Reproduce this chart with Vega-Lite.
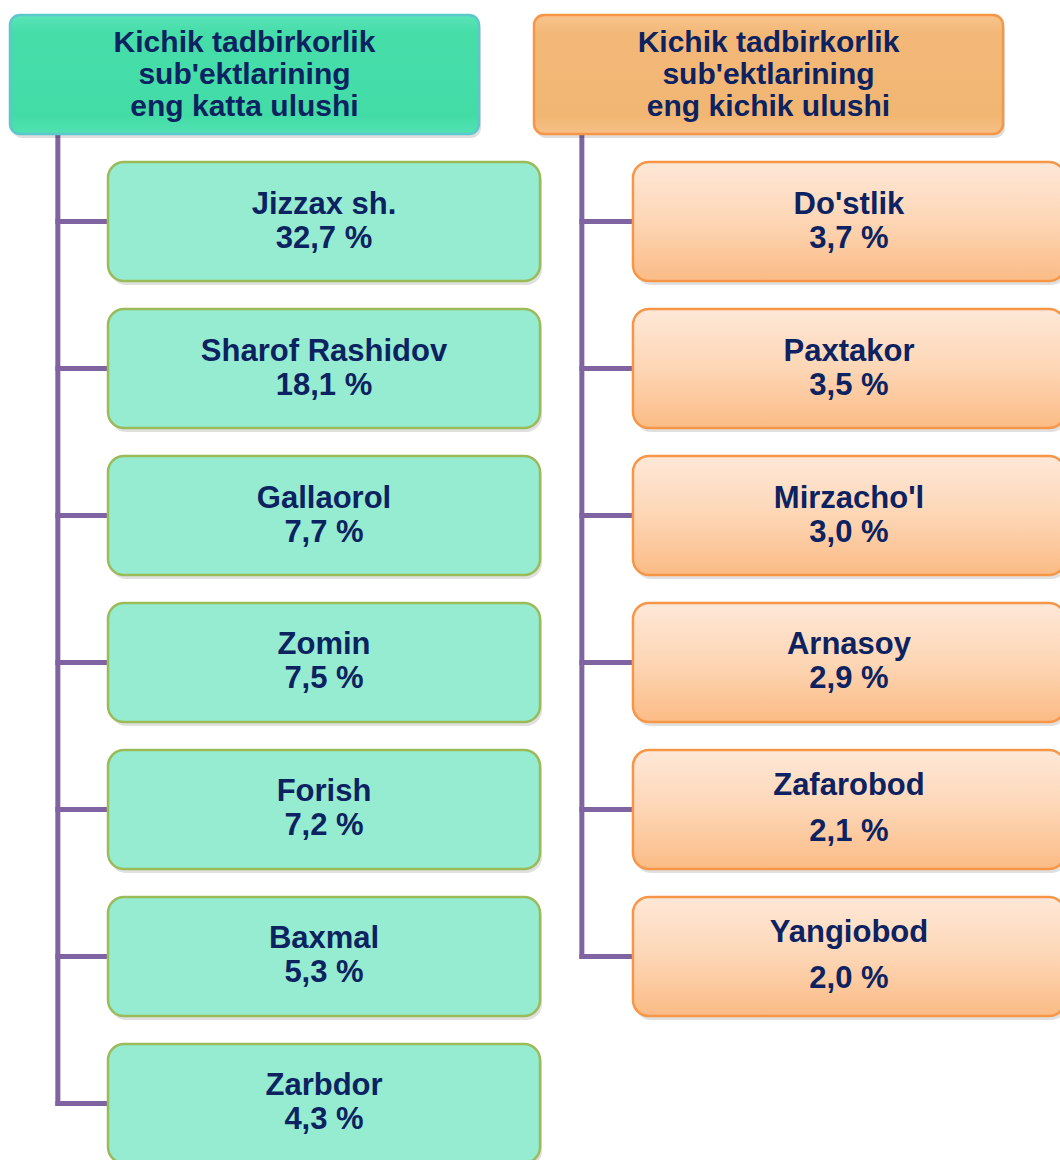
{
  "$schema": "https://vega.github.io/schema/vega-lite/v6.json",
  "width": 1060,
  "height": 1160,
  "padding": 0,
  "autosize": {"type": "none"},
  "background": "white",
  "config": {"view": {"stroke": null}},
  "data": {
    "values": [
      {"side": "left", "row": 0, "kind": "header", "title": ["Kichik tadbirkorlik", "sub'ektlarining", "eng katta ulushi"]},
      {"side": "right", "row": 0, "kind": "header", "title": ["Kichik tadbirkorlik", "sub'ektlarining", "eng kichik ulushi"]},
      {"side": "left", "row": 1, "kind": "box", "name": "Jizzax sh.", "share": 32.7},
      {"side": "left", "row": 2, "kind": "box", "name": "Sharof Rashidov", "share": 18.1},
      {"side": "left", "row": 3, "kind": "box", "name": "Gallaorol", "share": 7.7},
      {"side": "left", "row": 4, "kind": "box", "name": "Zomin", "share": 7.5},
      {"side": "left", "row": 5, "kind": "box", "name": "Forish", "share": 7.2},
      {"side": "left", "row": 6, "kind": "box", "name": "Baxmal", "share": 5.3},
      {"side": "left", "row": 7, "kind": "box", "name": "Zarbdor", "share": 4.3},
      {"side": "right", "row": 1, "kind": "box", "name": "Do'stlik", "share": 3.7},
      {"side": "right", "row": 2, "kind": "box", "name": "Paxtakor", "share": 3.5},
      {"side": "right", "row": 3, "kind": "box", "name": "Mirzacho'l", "share": 3.0},
      {"side": "right", "row": 4, "kind": "box", "name": "Arnasoy", "share": 2.9},
      {"side": "right", "row": 5, "kind": "box", "name": "Zafarobod", "share": 2.1},
      {"side": "right", "row": 6, "kind": "box", "name": "Yangiobod", "share": 2.0}
    ]
  },
  "resolve": {"scale": {"x": "independent"}},
  "layer": [
    {
      "transform": [
        {"aggregate": [{"op": "min", "field": "row", "as": "r0"}, {"op": "max", "field": "row", "as": "r1"}], "groupby": ["side"]}
      ],
      "mark": {"type": "rule", "color": "#8064a2", "strokeWidth": 5, "strokeCap": "square"},
      "encoding": {
        "x": {"field": "side", "type": "nominal", "bandPosition": 0.102, "axis": null,
              "scale": {"type": "band", "domain": ["left", "right"], "range": [10, 1003], "paddingInner": 0.105, "paddingOuter": 0}},
        "y": {"field": "r0", "type": "ordinal", "axis": null,
              "scale": {"type": "band", "domain": [0, 1, 2, 3, 4, 5, 6, 7], "range": [15, 1163], "paddingInner": 0.19, "paddingOuter": 0}},
        "y2": {"field": "r1"}
      }
    },
    {
      "transform": [{"filter": "datum.kind === 'box'"}],
      "mark": {"type": "rule", "color": "#8064a2", "strokeWidth": 5, "strokeCap": "square", "x2Offset": 150},
      "encoding": {
        "x": {"field": "side", "type": "nominal", "bandPosition": 0.102, "axis": null,
              "scale": {"type": "band", "domain": ["left", "right"], "range": [10, 1003], "paddingInner": 0.105, "paddingOuter": 0}},
        "x2": {"field": "side"},
        "y": {"field": "row", "type": "ordinal", "axis": null,
              "scale": {"type": "band", "domain": [0, 1, 2, 3, 4, 5, 6, 7], "range": [15, 1163], "paddingInner": 0.19, "paddingOuter": 0}}
      }
    },
    {
      "transform": [{"filter": "datum.kind === 'header'"}],
      "mark": {"type": "rect", "color": "#000000", "opacity": 0.13, "cornerRadius": 10, "xOffset": 2, "x2Offset": 2, "yOffset": 4, "y2Offset": 4},
      "encoding": {
        "x": {"field": "side", "type": "nominal", "axis": null,
              "scale": {"type": "band", "domain": ["left", "right"], "range": [10, 1003], "paddingInner": 0.105, "paddingOuter": 0}},
        "y": {"field": "row", "type": "ordinal", "axis": null,
              "scale": {"type": "band", "domain": [0, 1, 2, 3, 4, 5, 6, 7], "range": [15, 1163], "paddingInner": 0.19, "paddingOuter": 0}}
      }
    },
    {
      "transform": [{"filter": "datum.kind === 'header' && datum.side === 'left'"}],
      "mark": {"type": "rect", "cornerRadius": 10, "stroke": "#5cc8cc", "strokeWidth": 2.5,
               "fill": {"gradient": "linear", "x1": 0, "y1": 0, "x2": 0, "y2": 1,
                        "stops": [{"offset": 0, "color": "#5ae4b8"}, {"offset": 0.15, "color": "#46dda9"}, {"offset": 0.85, "color": "#43dca7"}, {"offset": 1, "color": "#52e2b2"}]}},
      "encoding": {
        "x": {"field": "side", "type": "nominal", "axis": null,
              "scale": {"type": "band", "domain": ["left", "right"], "range": [10, 1003], "paddingInner": 0.105, "paddingOuter": 0}},
        "y": {"field": "row", "type": "ordinal", "axis": null,
              "scale": {"type": "band", "domain": [0, 1, 2, 3, 4, 5, 6, 7], "range": [15, 1163], "paddingInner": 0.19, "paddingOuter": 0}}
      }
    },
    {
      "transform": [{"filter": "datum.kind === 'header' && datum.side === 'right'"}],
      "mark": {"type": "rect", "cornerRadius": 10, "stroke": "#f79646", "strokeWidth": 2.5,
               "fill": {"gradient": "linear", "x1": 0, "y1": 0, "x2": 0, "y2": 1,
                        "stops": [{"offset": 0, "color": "#f7c48c"}, {"offset": 0.15, "color": "#f3b878"}, {"offset": 0.85, "color": "#f2b673"}, {"offset": 1, "color": "#f6c088"}]}},
      "encoding": {
        "x": {"field": "side", "type": "nominal", "axis": null,
              "scale": {"type": "band", "domain": ["left", "right"], "range": [10, 1003], "paddingInner": 0.105, "paddingOuter": 0}},
        "y": {"field": "row", "type": "ordinal", "axis": null,
              "scale": {"type": "band", "domain": [0, 1, 2, 3, 4, 5, 6, 7], "range": [15, 1163], "paddingInner": 0.19, "paddingOuter": 0}}
      }
    },
    {
      "transform": [{"filter": "datum.kind === 'header'"}],
      "mark": {"type": "text", "font": "Liberation Sans", "fontWeight": "bold", "fontSize": 30, "lineHeight": 32, "color": "#0d2260", "align": "center", "baseline": "middle", "dy": -32},
      "encoding": {
        "x": {"field": "side", "type": "nominal", "axis": null,
              "scale": {"type": "band", "domain": ["left", "right"], "range": [10, 1003], "paddingInner": 0.105, "paddingOuter": 0}},
        "y": {"field": "row", "type": "ordinal", "axis": null,
              "scale": {"type": "band", "domain": [0, 1, 2, 3, 4, 5, 6, 7], "range": [15, 1163], "paddingInner": 0.19, "paddingOuter": 0}},
        "text": {"field": "title"}
      }
    },
    {
      "transform": [{"filter": "datum.kind === 'box'"}],
      "mark": {"type": "rect", "color": "#000000", "opacity": 0.12, "cornerRadius": 16, "xOffset": 2, "x2Offset": 2, "yOffset": 4, "y2Offset": 4},
      "encoding": {
        "x": {"field": "side", "type": "nominal", "axis": null,
              "scale": {"type": "band", "domain": ["left", "right"], "range": [108, 1065], "paddingInner": 0.177, "paddingOuter": 0}},
        "y": {"field": "row", "type": "ordinal", "axis": null,
              "scale": {"type": "band", "domain": [0, 1, 2, 3, 4, 5, 6, 7], "range": [15, 1163], "paddingInner": 0.19, "paddingOuter": 0}}
      }
    },
    {
      "transform": [{"filter": "datum.kind === 'box' && datum.side === 'left'"}],
      "mark": {"type": "rect", "cornerRadius": 16, "stroke": "#9bbb59", "strokeWidth": 2.5, "fill": "#95ecd0"},
      "encoding": {
        "x": {"field": "side", "type": "nominal", "axis": null,
              "scale": {"type": "band", "domain": ["left", "right"], "range": [108, 1065], "paddingInner": 0.177, "paddingOuter": 0}},
        "y": {"field": "row", "type": "ordinal", "axis": null,
              "scale": {"type": "band", "domain": [0, 1, 2, 3, 4, 5, 6, 7], "range": [15, 1163], "paddingInner": 0.19, "paddingOuter": 0}}
      }
    },
    {
      "transform": [{"filter": "datum.kind === 'box' && datum.side === 'right'"}],
      "mark": {"type": "rect", "cornerRadius": 16, "stroke": "#f79646", "strokeWidth": 2.5,
               "fill": {"gradient": "linear", "x1": 0, "y1": 0, "x2": 0, "y2": 1,
                        "stops": [{"offset": 0, "color": "#fee8d8"}, {"offset": 0.5, "color": "#fdd6b5"}, {"offset": 1, "color": "#fbbb85"}]}},
      "encoding": {
        "x": {"field": "side", "type": "nominal", "axis": null,
              "scale": {"type": "band", "domain": ["left", "right"], "range": [108, 1065], "paddingInner": 0.177, "paddingOuter": 0}},
        "y": {"field": "row", "type": "ordinal", "axis": null,
              "scale": {"type": "band", "domain": [0, 1, 2, 3, 4, 5, 6, 7], "range": [15, 1163], "paddingInner": 0.19, "paddingOuter": 0}}
      }
    },
    {
      "transform": [{"filter": "datum.kind === 'box' && datum.name !== 'Zafarobod' && datum.name !== 'Yangiobod'"}],
      "mark": {"type": "text", "font": "Liberation Sans", "fontWeight": "bold", "fontSize": 31, "color": "#0d2260", "align": "center", "baseline": "middle", "dy": -17},
      "encoding": {
        "x": {"field": "side", "type": "nominal", "axis": null,
              "scale": {"type": "band", "domain": ["left", "right"], "range": [108, 1065], "paddingInner": 0.177, "paddingOuter": 0}},
        "y": {"field": "row", "type": "ordinal", "axis": null,
              "scale": {"type": "band", "domain": [0, 1, 2, 3, 4, 5, 6, 7], "range": [15, 1163], "paddingInner": 0.19, "paddingOuter": 0}},
        "text": {"field": "name"}
      }
    },
    {
      "transform": [
        {"filter": "datum.kind === 'box' && datum.name !== 'Zafarobod' && datum.name !== 'Yangiobod'"},
        {"calculate": "replace(format(datum.share, '.1f'), '.', ',') + ' %'", "as": "label"}
      ],
      "mark": {"type": "text", "font": "Liberation Sans", "fontWeight": "bold", "fontSize": 31, "color": "#0d2260", "align": "center", "baseline": "middle", "dy": 17},
      "encoding": {
        "x": {"field": "side", "type": "nominal", "axis": null,
              "scale": {"type": "band", "domain": ["left", "right"], "range": [108, 1065], "paddingInner": 0.177, "paddingOuter": 0}},
        "y": {"field": "row", "type": "ordinal", "axis": null,
              "scale": {"type": "band", "domain": [0, 1, 2, 3, 4, 5, 6, 7], "range": [15, 1163], "paddingInner": 0.19, "paddingOuter": 0}},
        "text": {"field": "label"}
      }
    },
    {
      "transform": [{"filter": "datum.name === 'Zafarobod' || datum.name === 'Yangiobod'"}],
      "mark": {"type": "text", "font": "Liberation Sans", "fontWeight": "bold", "fontSize": 31, "color": "#0d2260", "align": "center", "baseline": "middle", "dy": -23},
      "encoding": {
        "x": {"field": "side", "type": "nominal", "axis": null,
              "scale": {"type": "band", "domain": ["left", "right"], "range": [108, 1065], "paddingInner": 0.177, "paddingOuter": 0}},
        "y": {"field": "row", "type": "ordinal", "axis": null,
              "scale": {"type": "band", "domain": [0, 1, 2, 3, 4, 5, 6, 7], "range": [15, 1163], "paddingInner": 0.19, "paddingOuter": 0}},
        "text": {"field": "name"}
      }
    },
    {
      "transform": [
        {"filter": "datum.name === 'Zafarobod' || datum.name === 'Yangiobod'"},
        {"calculate": "replace(format(datum.share, '.1f'), '.', ',') + ' %'", "as": "label"}
      ],
      "mark": {"type": "text", "font": "Liberation Sans", "fontWeight": "bold", "fontSize": 31, "color": "#0d2260", "align": "center", "baseline": "middle", "dy": 23},
      "encoding": {
        "x": {"field": "side", "type": "nominal", "axis": null,
              "scale": {"type": "band", "domain": ["left", "right"], "range": [108, 1065], "paddingInner": 0.177, "paddingOuter": 0}},
        "y": {"field": "row", "type": "ordinal", "axis": null,
              "scale": {"type": "band", "domain": [0, 1, 2, 3, 4, 5, 6, 7], "range": [15, 1163], "paddingInner": 0.19, "paddingOuter": 0}},
        "text": {"field": "label"}
      }
    }
  ]
}
